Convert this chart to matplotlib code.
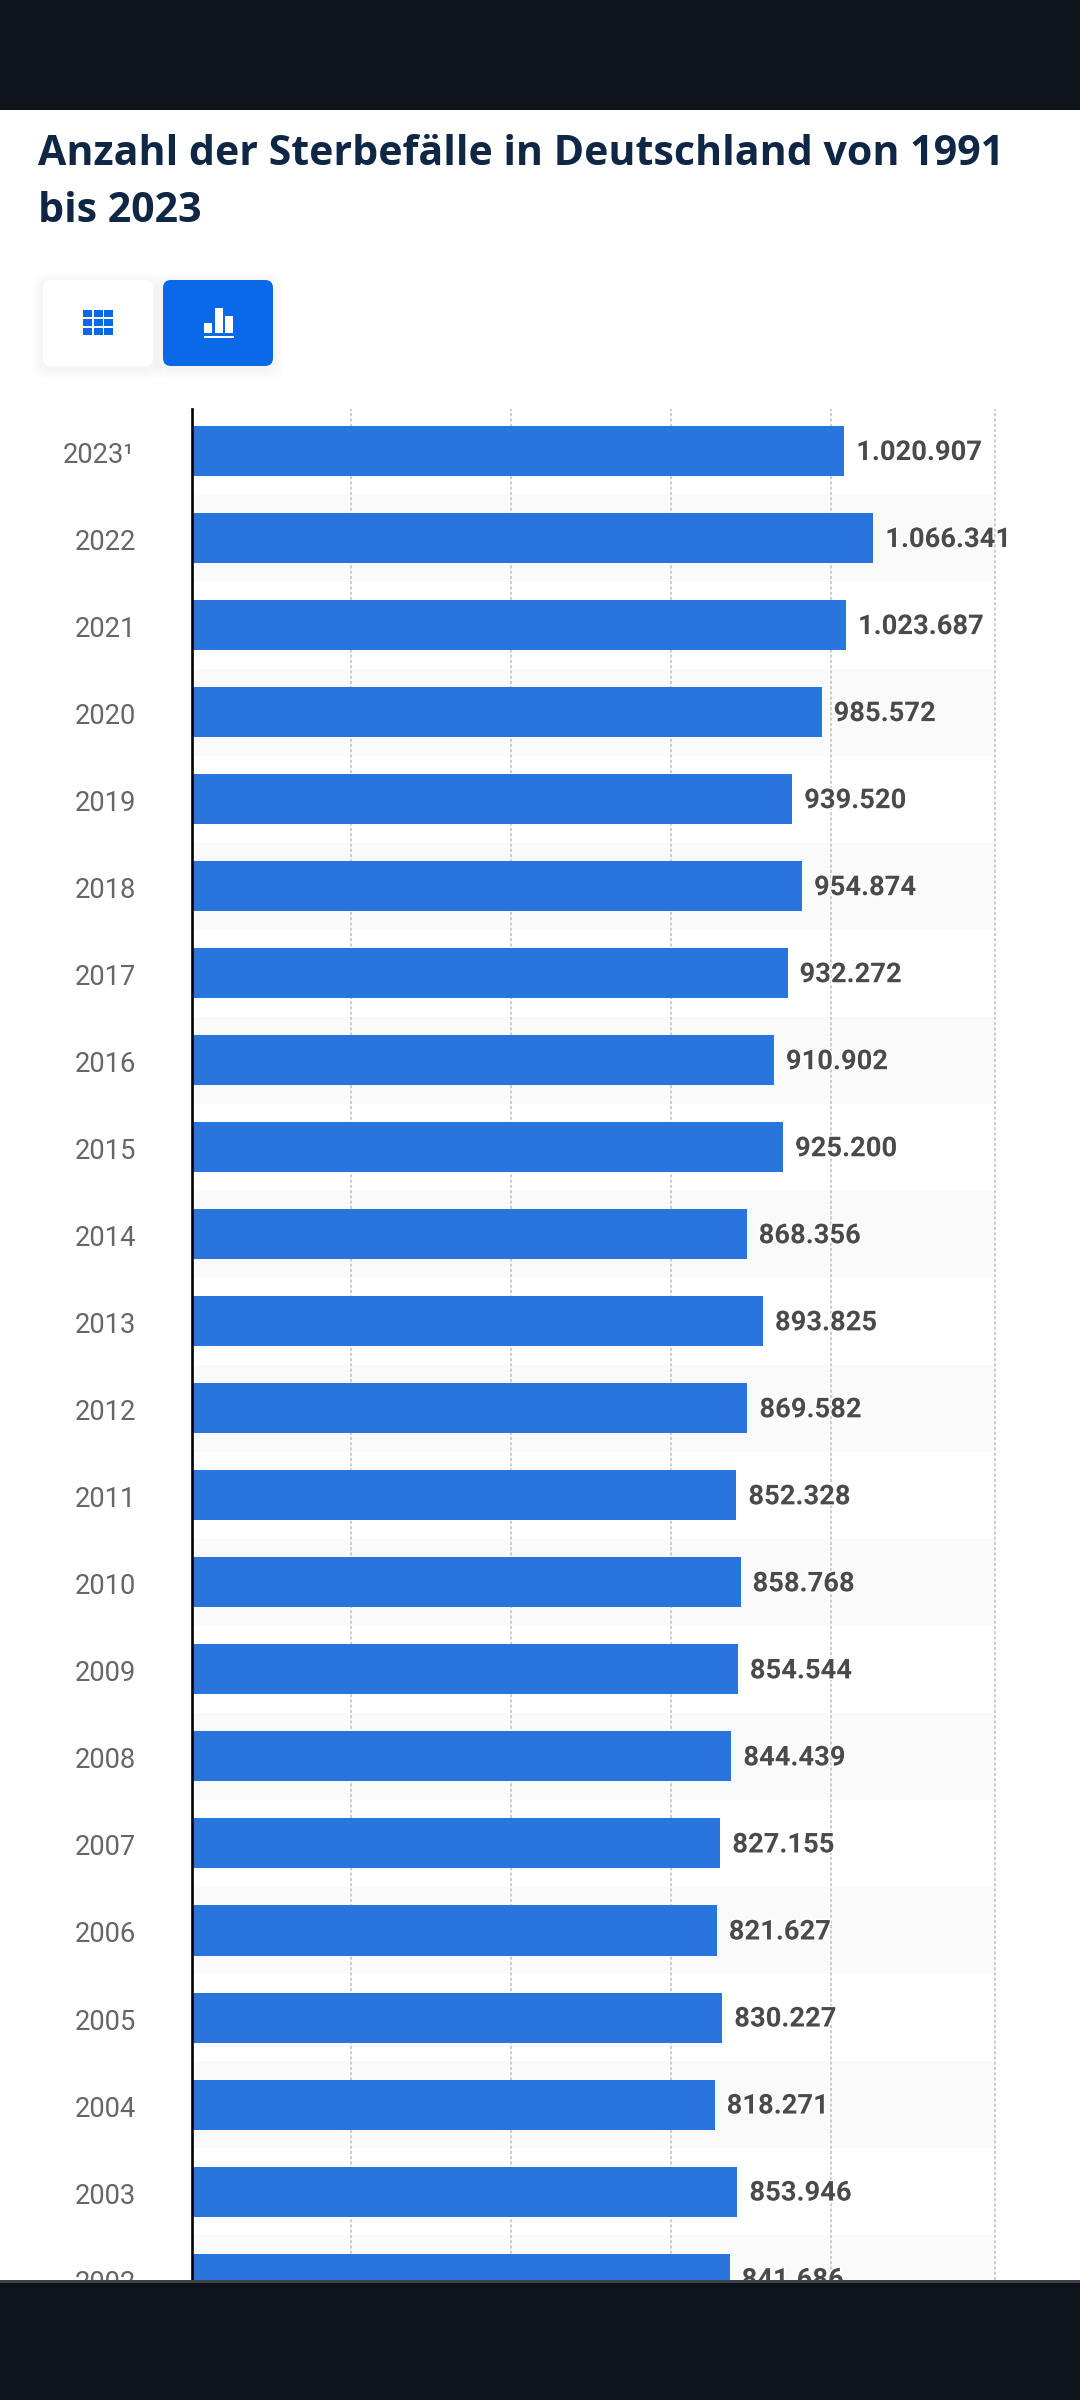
import matplotlib
matplotlib.use('Agg')
import matplotlib.pyplot as plt
import matplotlib.patheffects as pe
from matplotlib.patches import Rectangle, FancyBboxPatch

# Sterbefaelle (2002 is cut off by the bottom bar)
years = ['2023¹', '2022', '2021', '2020', '2019', '2018', '2017', '2016', '2015', '2014', '2013',
         '2012', '2011', '2010', '2009', '2008', '2007', '2006', '2005', '2004', '2003', '2002']
deaths = [1020907, 1066341, 1023687, 985572, 939520, 954874, 932272, 910902, 925200, 868356, 893825,
          869582, 852328, 858768, 854544, 844439, 827155, 821627, 830227, 818271, 853946, 841686]
grid_ticks = [250000, 500000, 750000, 1000000, 1256000]

title_lines = ['Anzahl der Sterbefälle in Deutschland von 1991', 'bis 2023']

W, H = 1080, 2400
BLUE = '#2975dd'
BTN = '#0969e8'
DARK = '#0f131c'


def fmt(v):
    return f'{v:,}'.replace(',', '.')


fig = plt.figure(figsize=(W / 100, H / 100), dpi=100, facecolor='white')

# page furniture in pixel coordinates
ui = fig.add_axes([0, 0, 1, 1], zorder=0)
ui.set_xlim(0, W)
ui.set_ylim(H, 0)
ui.axis('off')

for i, line in enumerate(title_lines):
    ui.text(37.5, 165 + i * 57, line, family='Open Sans', fontweight='bold', fontsize=29.65,
            color='#0f2744', ha='left', va='baseline')

# table / chart buttons with a soft shadow
for bx in (43, 163):
    for grow in (10, 8, 6, 4, 2):
        ui.add_patch(FancyBboxPatch((bx - grow, 280 - grow + 3), 110 + 2 * grow, 86 + 2 * grow,
                                    boxstyle='round,pad=0,rounding_size=12', fc='black', ec='none', alpha=0.006))
ui.add_patch(FancyBboxPatch((43, 280), 110, 86, boxstyle='round,pad=0,rounding_size=8', fc='white', ec='none'))
ui.add_patch(FancyBboxPatch((163, 280), 110, 86, boxstyle='round,pad=0,rounding_size=8', fc=BTN, ec='none'))
for top, h in [(310, 7.3), (319, 7.3), (328.3, 6.7)]:
    for x0 in (83, 94, 104.2):
        ui.add_patch(Rectangle((x0, top), 8.8, h, fc=BTN, ec='none'))
for x0, top in [(204.3, 323), (214.7, 308), (224.7, 316)]:
    ui.add_patch(Rectangle((x0, top), 7.8, 333 - top, fc='white', ec='none'))
ui.add_patch(Rectangle((204, 336), 30, 2.3, fc='white', ec='none'))

# chart area: x 191.5-994.5 px, y 409-2280 px, rows 87 px apart
ax = fig.add_axes([191.5 / W, 1 - 2280 / H, 803 / W, 1871 / H], zorder=1)
ax.patch.set_alpha(0)
ax.set_xlim(0, 1256000)
ax.set_ylim(21.016, -0.483)

rows = list(range(len(years)))
for r in rows:
    if r % 2 == 1:
        ax.axhspan(r - 0.5, r + 0.5, color='#fafafa', lw=0, zorder=0)
for t in grid_ticks:
    ax.axvline(t, color='#cccccc', lw=1.4, ls=(0, (1.6, 1.1)), zorder=1, clip_on=False)

ax.barh(rows, deaths, height=0.575, color=BLUE, zorder=2)

for r, y, v in zip(rows, years, deaths):
    ax.annotate(y, (0, r), xytext=(-55.5 if r else -57, -4.5), textcoords='offset pixels', ha='right',
                va='center', family='Roboto', fontsize=19.7, color='#666666', zorder=3, annotation_clip=False)
    t = ax.annotate(fmt(v), (v, r), xytext=(12, -1.5), textcoords='offset pixels', ha='left', va='center',
                    family='Roboto', fontweight='bold', fontsize=19.7, color='#4a4a4a', zorder=3,
                    annotation_clip=False)
    t.set_path_effects([pe.withStroke(linewidth=2, foreground='white')])

for s in ['top', 'right', 'bottom']:
    ax.spines[s].set_visible(False)
ax.spines['left'].set_color('black')
ax.spines['left'].set_linewidth(1.9)
ax.set_xticks([])
ax.set_yticks([])

# dark bars of the screenshot, drawn over the chart
fig.add_artist(Rectangle((0, 1 - 110 / H), 1, 110 / H, transform=fig.transFigure, fc=DARK, ec='none', zorder=10))
fig.add_artist(Rectangle((0, 0), 1, 1 - 2280 / H, transform=fig.transFigure, fc=DARK, ec='none', zorder=10))
fig.add_artist(Rectangle((0, 1 - 2283 / H), 1, 3 / H, transform=fig.transFigure, fc='#3d4149', ec='none', zorder=11))

fig.savefig('out.png', dpi=100, facecolor='white')
